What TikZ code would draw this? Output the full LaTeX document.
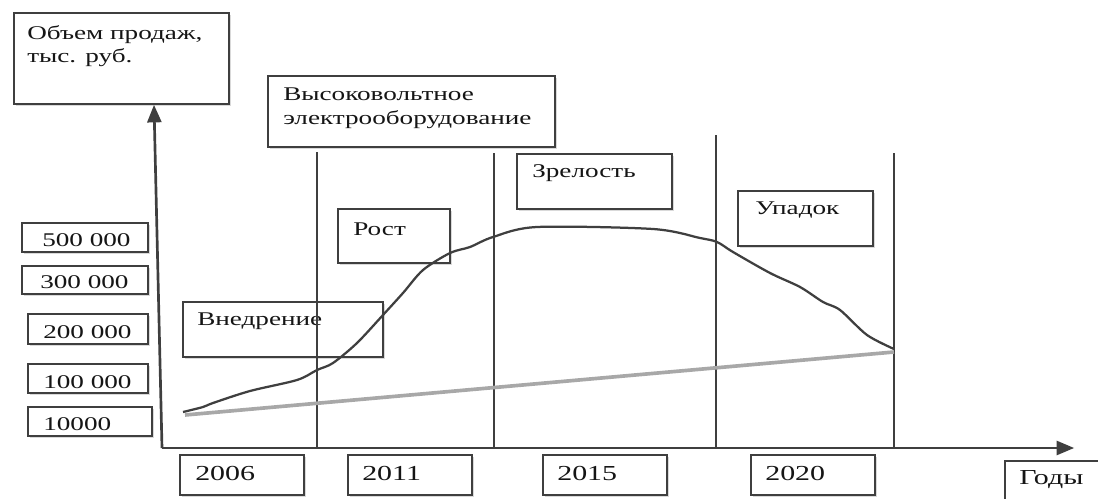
\documentclass[tikz,border=0pt]{standalone}
\usepackage{fontspec}
\setmainfont{Liberation Serif}[FakeStretch=1.4]
\usetikzlibrary{arrows,fit,shadows}
\definecolor{linegray}{HTML}{3F3F3F}
\definecolor{textgray}{HTML}{151515}
\definecolor{basegray}{HTML}{A8A8A8}

\begin{document}
\begin{tikzpicture}[x=0.025cm,y=-0.025cm]
	\tikzstyle{box}=[
		draw=linegray, line width=1.9pt, fill=white, inner sep=0pt,
		drop shadow={shadow xshift=1.5pt, shadow yshift=-1.5pt, opacity=0.3}
	]
	\tikzstyle{txt}=[anchor=north west, inner sep=0pt, text=textgray, align=left,
		font=\fontsize{13.8}{16.4}\selectfont]
	\tikzstyle{yeartxt}=[txt, font=\fontsize{15.2}{17}\selectfont]
	\tikzstyle{axis}=[draw=linegray, line width=1.9pt, -triangle 45]
	\tikzstyle{sep}=[draw=linegray, line width=1.9pt]
	\useasboundingbox (0,0) rectangle (1098,499);

	% axis titles
	\node[box, fit={(14,13) (229,104)}] (ylab) {};
	\node[txt] (ylabtxt) at (27,25) {Объем продаж,\\тыс. руб.};
	\node[box, fit={(1005,461) (1120,520)}] (xlab) {};
	\node[yeartxt] (xlabtxt) at (1019,470) {Годы};

	% product
	\node[box, fit={(268,76) (555,147)}] (prod) {};
	\node[txt] (prodtxt) at (283,88) {Высоковольтное\\электрооборудование};

	% stages
	\node[box, fit={(183,302) (383,357)}] (intro) {};
	\node[box, fit={(338,209) (450,263)}] (growth) {};
	\node[box, fit={(517,154) (672,209)}] (mature) {};
	\node[box, fit={(738,191) (873,246)}] (decline) {};
	\node[txt] (introtxt) at (197,313) {Внедрение};
	\node[txt] (growthtxt) at (353,223) {Рост};
	\node[txt] (maturetxt) at (532,164) {Зрелость};
	\node[txt] (declinetxt) at (755,202) {Упадок};

	% sales values
	\foreach \n/\val/\xa/\ya/\xb/\yb/\tx/\ty in {
		1/500 000/22/223/148/252/42/233,
		2/300 000/22/266/148/294/40/275,
		3/200 000/28/314/148/344/43/325,
		4/100 000/28/364/148/393/43/375,
		5/10000/28/407/152/436/43/417}
	{
		\node[box, fit={(\xa,\ya) (\xb,\yb)}] (val\n) {};
		\node[txt] (valtxt\n) at (\tx,\ty) {\val};
	}

	% years
	\foreach \n/\yr/\xa/\tx in {1/2006/180/195, 2/2011/348/362, 3/2015/543/557, 4/2020/751/765}
	{
		\node[box, fit={(\xa,455) (\xa+124,495)}] (yr\n) {};
		\node[yeartxt] (yrtxt\n) at (\tx,466) {\yr};
	}

	% axes
	\coordinate (o) at (162,448);
	\coordinate (ytop) at (154,105);
	\coordinate (xend) at (1074,448);
	\draw[axis] (o) -- (ytop);
	\draw[axis] (o) -- (xend);

	% stage borders
	\foreach \x/\top in {317/152, 494/153, 716/135, 894/153}
		\draw[sep] (\x,\top) -- (\x,448);

	% base line and sales curve
	\draw[basegray, line width=2.6pt] (185,415) -- (894,352);
	\draw[linegray, line width=1.6pt] plot[smooth, tension=0.5] coordinates {
		(183,412) (203,407) (213,403) (250,391) (297,380) (317,370) (333,363)
		(357,343) (383,315) (403,293) (423,270) (450,253) (470,247) (493,237)
		(537,227) (653,229) (700,238) (717,242) (733,252) (770,273) (800,287)
		(823,302) (840,310) (867,335) (894,349)};
\end{tikzpicture}
\end{document}
